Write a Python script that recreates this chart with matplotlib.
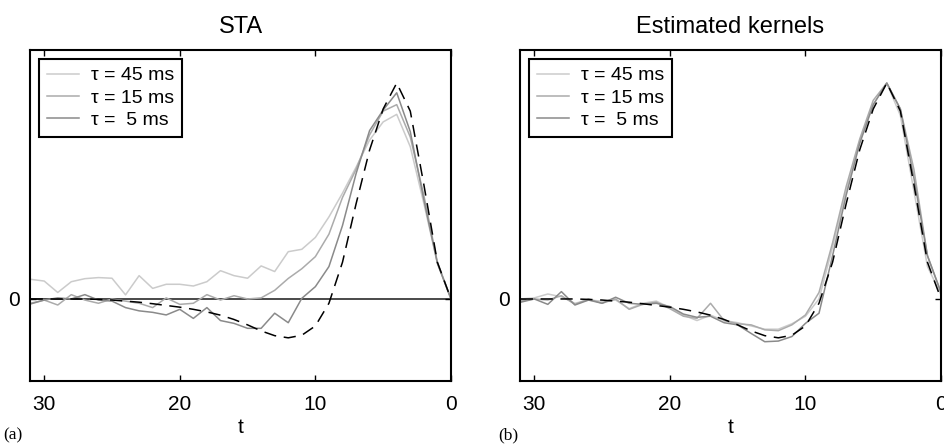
import matplotlib
matplotlib.use('Agg')
import matplotlib.pyplot as plt
import numpy as np

plt.rcParams['font.family'] = ['Liberation Sans', 'DejaVu Sans']

# lag axis, from 31 down to 0
t = np.arange(31, -1, -1)

# true kernel (dashed)
kernel = [0, 0, 0, 0, 0, -0.002, -0.005, -0.01, -0.015, -0.022, -0.03, -0.038,
          -0.048, -0.06, -0.075, -0.095, -0.12, -0.148, -0.17, -0.18, -0.168,
          -0.125, -0.02, 0.17, 0.44, 0.69, 0.88, 1.0, 0.87, 0.53, 0.17, 0.0]

# STA for the three time constants
sta_45 = [0.091, 0.083, 0.03, 0.08, 0.094, 0.099, 0.096, 0.019, 0.108, 0.049,
          0.068, 0.068, 0.06, 0.08, 0.131, 0.108, 0.096, 0.153, 0.127, 0.219,
          0.23, 0.285, 0.38, 0.49, 0.61, 0.736, 0.82, 0.855, 0.705, 0.443,
          0.165, 0.003]
sta_15 = [-0.02, -0.005, -0.028, 0.02, -0.005, -0.02, 0.0, -0.01, -0.02, -0.04,
          0.005, -0.025, -0.02, 0.02, -0.005, 0.015, 0.0, 0.005, 0.04, 0.095,
          0.14, 0.196, 0.3, 0.47, 0.6, 0.76, 0.87, 0.9, 0.75, 0.48, 0.17, 0.0]
sta_5 = [-0.023, -0.005, 0.005, 0.0, 0.02, -0.005, -0.01, -0.04, -0.055, -0.062,
         -0.074, -0.048, -0.09, -0.04, -0.1, -0.113, -0.136, -0.136, -0.066,
         -0.11, 0.003, 0.057, 0.15, 0.34, 0.58, 0.78, 0.875, 0.955, 0.775,
         0.46, 0.165, 0.0]

# estimated kernels
est_45 = [0.0, 0.005, 0.023, 0.01, -0.02, -0.005, -0.01, -0.005, -0.045, -0.02,
          -0.01, -0.04, -0.075, -0.1, -0.075, -0.1, -0.11, -0.125, -0.14, -0.14,
          -0.115, -0.08, 0.0, 0.24, 0.5, 0.73, 0.9, 1.0, 0.85, 0.5, 0.15, 0.02]
est_15 = [-0.01, 0.0, -0.005, 0.015, -0.025, 0.0, -0.02, 0.0, -0.048, -0.025,
          -0.015, -0.045, -0.08, -0.09, -0.02, -0.1, -0.115, -0.12, -0.143,
          -0.147, -0.12, -0.074, 0.03, 0.26, 0.52, 0.74, 0.92, 1.0, 0.88, 0.6,
          0.2, 0.03]
est_5 = [-0.015, 0.0, -0.025, 0.034, -0.028, -0.005, -0.02, 0.008, -0.02, -0.025,
         -0.02, -0.035, -0.07, -0.085, -0.08, -0.11, -0.12, -0.16, -0.198,
         -0.195, -0.174, -0.113, -0.066, 0.2, 0.48, 0.72, 0.9, 1.0, 0.88,
         0.56, 0.2, 0.03]

labels = ['\u03c4 = 45 ms', '\u03c4 = 15 ms', '\u03c4 =  5 ms']
colors = ['#cbcbcb', '#ababab', '#8a8a8a']


def draw_panel(ax, curves, title, zero_line):
	if zero_line:
		ax.axhline(0, color='#4a4a4a', linewidth=1.4, zorder=1)
	for y, c, lab in zip(curves, colors, labels):
		ax.plot(t, y, color=c, linewidth=1.1, label=lab, zorder=2)
	ax.plot(t, kernel, color='black', linewidth=1.1, dashes=(8, 5), zorder=3)

	ax.set_xlim(31.05, 0)
	ax.set_ylim(-0.38, 1.153)
	ax.set_xticks([30, 20, 10, 0])
	ax.set_yticks([0])
	ax.tick_params(direction='in', length=4, width=1, labelsize=15,
	               top=True, right=True, pad=10)
	ax.tick_params(axis='y', pad=7)
	for sp in ax.spines.values():
		sp.set_linewidth(1.5)
	ax.set_title(title, fontsize=17, pad=12)
	ax.set_xlabel('t', fontsize=15, labelpad=3)

	leg = ax.legend(loc='upper left', bbox_to_anchor=(0.022, 0.973),
	                borderaxespad=0, fontsize=14, fancybox=False,
	                framealpha=1, edgecolor='black', handlelength=1.65,
	                handletextpad=0.6, labelspacing=0.25, borderpad=0.4)
	leg.get_frame().set_linewidth(1.5)


fig = plt.figure(figsize=(9.45, 4.45), dpi=100)
ax1 = fig.add_axes([0.0317, 0.1438, 0.4455, 0.7438])
ax2 = fig.add_axes([0.5503, 0.1438, 0.4455, 0.7438])

draw_panel(ax1, [sta_45, sta_15, sta_5], 'STA', True)
draw_panel(ax2, [est_45, est_15, est_5], 'Estimated kernels', False)

fig.text(0.003, 0.012, '(a)', family='Liberation Serif', fontsize=12.5)
fig.text(0.527, 0.012, '(b)', family='Liberation Serif', fontsize=12.5)

fig.savefig('out.png', dpi=100)
